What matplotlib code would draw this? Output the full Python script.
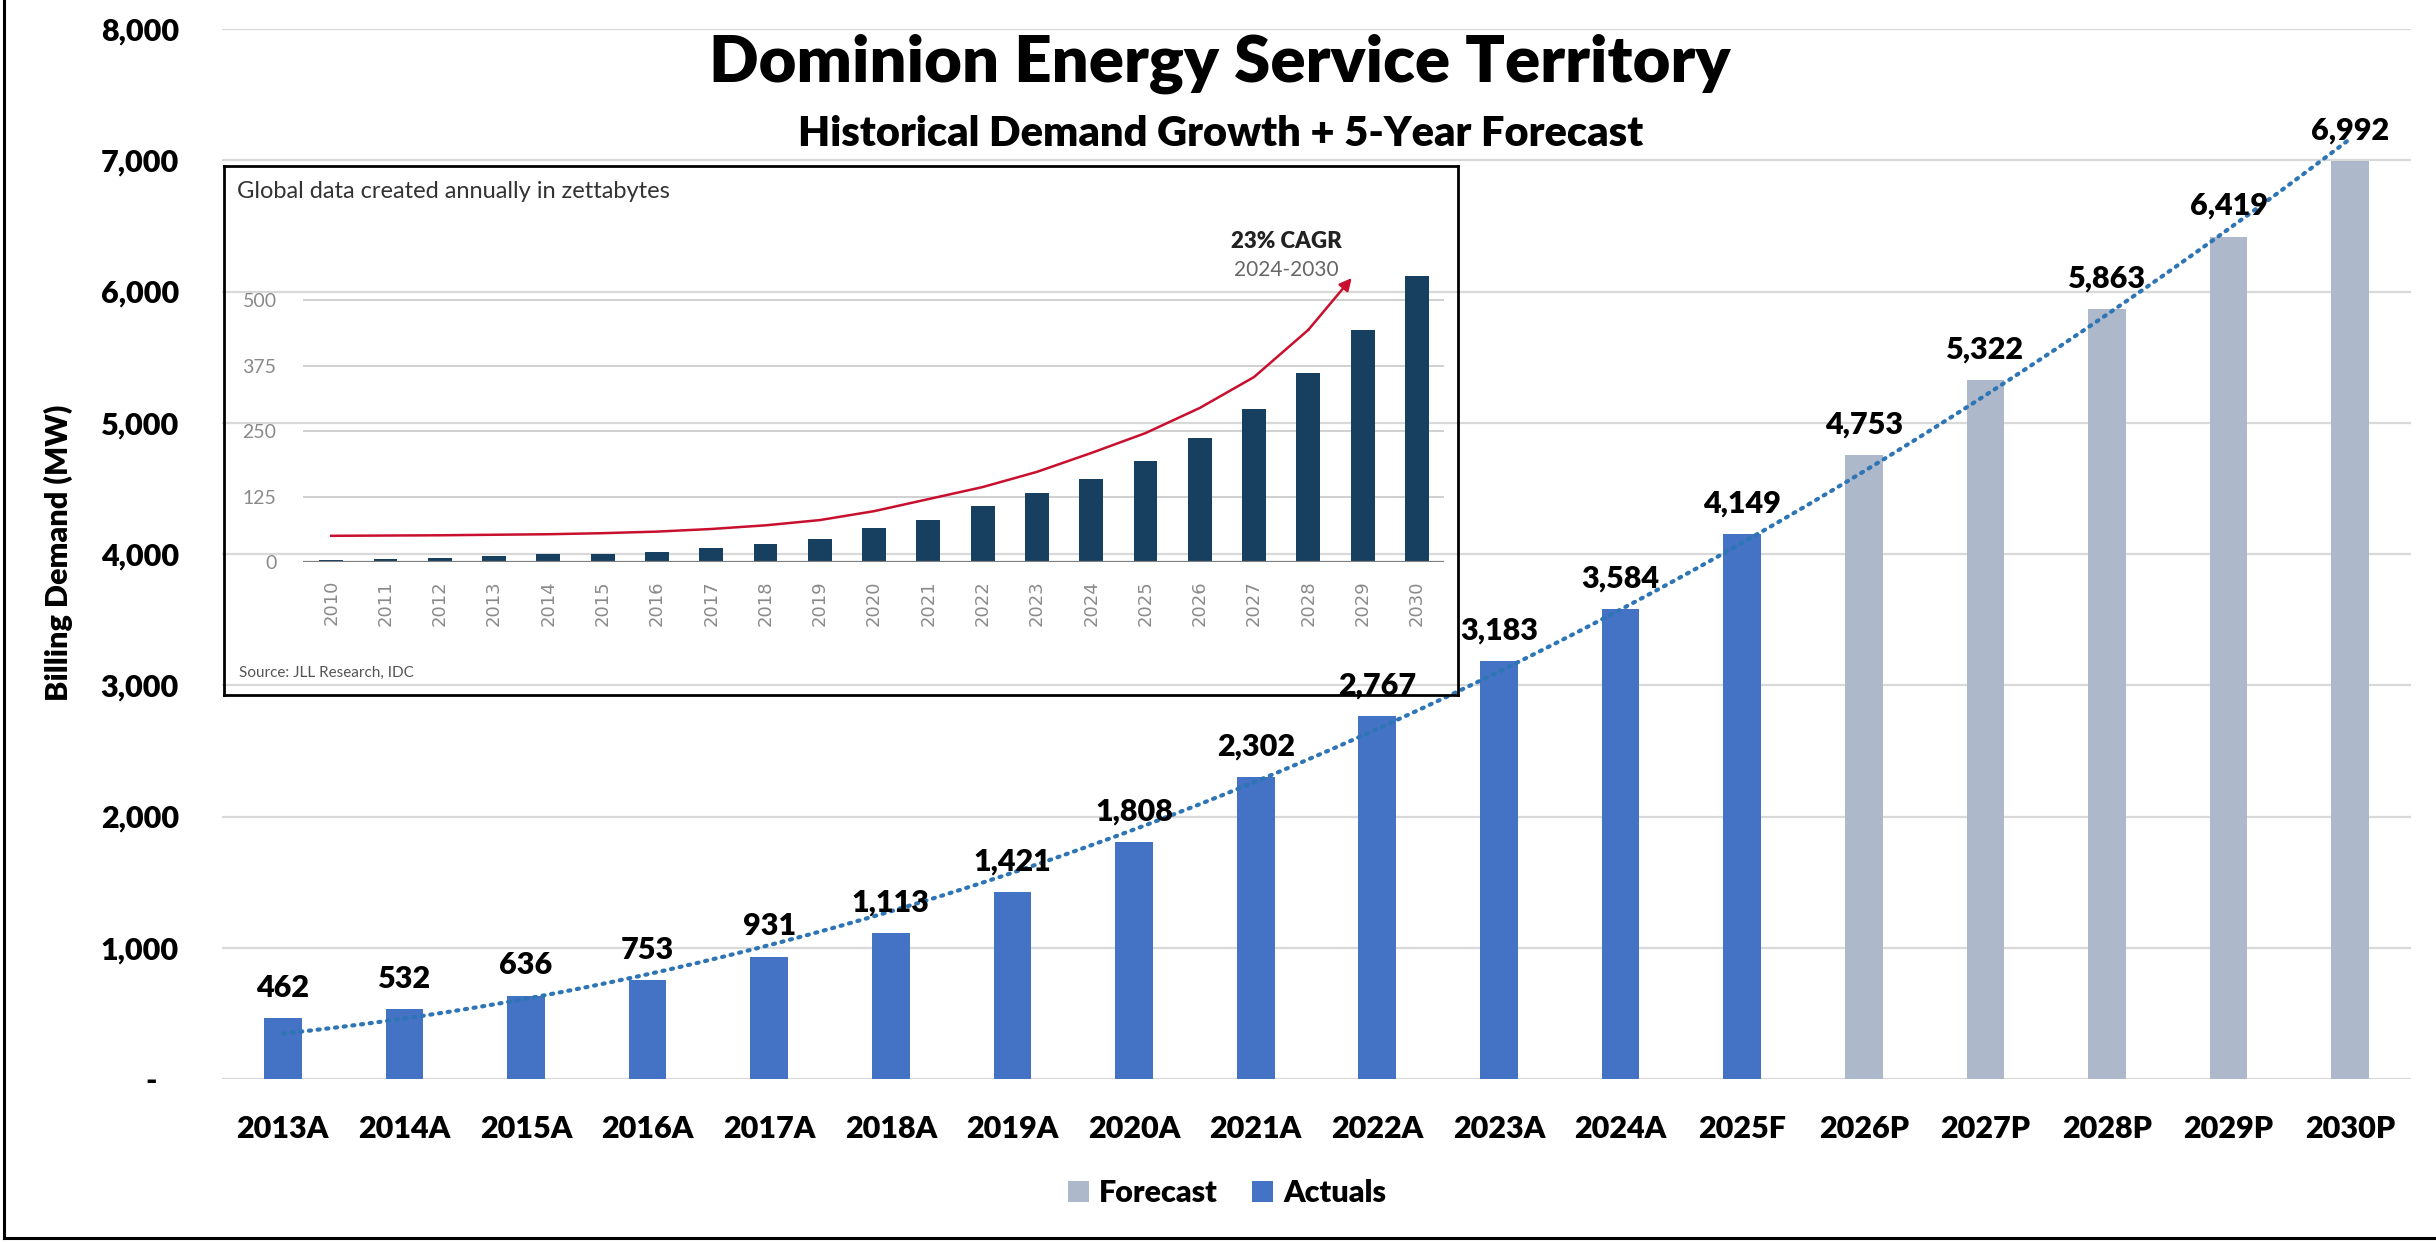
import numpy as np
import matplotlib.pyplot as plt
from matplotlib.patches import Patch
from matplotlib.lines import Line2D

plt.rcParams['font.family'] = ['Lato', 'DejaVu Sans']
plt.rcParams['font.weight'] = 'heavy'

# main chart data
years = ['2013A', '2014A', '2015A', '2016A', '2017A', '2018A', '2019A', '2020A', '2021A',
         '2022A', '2023A', '2024A', '2025F', '2026P', '2027P', '2028P', '2029P', '2030P']
demand = [462, 532, 636, 753, 931, 1113, 1421, 1808, 2302,
          2767, 3183, 3584, 4149, 4753, 5322, 5863, 6419, 6992]
is_forecast = [False] * 13 + [True] * 5

# inset chart data (global data created, zettabytes)
inset_years = [str(y) for y in range(2010, 2031)]
zettabytes = [3, 5, 8, 11, 15, 15, 19, 27, 34, 43, 65, 80, 107, 131, 158, 193, 237, 292, 361, 443, 546]
curve_pos = [0, 1, 2, 3, 4, 5, 6, 7, 8, 9, 10, 11, 12, 13, 14, 15, 16, 17, 18, 18.8]
curve_vals = [50, 50.5, 51, 52, 53, 55, 58, 63, 70, 80, 97, 120, 143, 172, 208, 246, 294, 353, 443, 542]

actual_color = '#4472C4'
forecast_color = '#ADB9CA'
trend_color = '#2E75B6'

W, H = 2436, 1243


def fx(px):
    return px / W


def fy(py):
    return 1 - py / H


fig = plt.figure(figsize=(W / 100, H / 100), dpi=100)

# ---- main axes
ax = fig.add_axes([fx(222), fy(1079), fx(2411) - fx(222), (1079 - 29) / H])
x = np.arange(len(years))
colors = [forecast_color if f else actual_color for f in is_forecast]
ax.bar(x, demand, width=0.31, color=colors, zorder=2)
ax.set_xlim(-0.5, len(years) - 0.5)
ax.set_ylim(0, 8000)
yt = list(range(0, 8001, 1000))
ax.set_yticks(yt)
ax.set_yticklabels(['-   '] + [f'{v:,}' for v in yt[1:]])
ax.set_xticks(x)
ax.set_xticklabels(years)
ax.yaxis.grid(True, color='#D9D9D9', lw=1.6)
ax.set_axisbelow(True)
for s in ax.spines.values():
    s.set_visible(False)
ax.tick_params(axis='both', length=0, labelsize=22)
ax.tick_params(axis='x', pad=26)
ax.tick_params(axis='y', pad=31)

# polynomial trendline (order 2) like the Excel one
coef = np.polyfit(x + 1, demand, 2)
xs = np.linspace(0, len(years) - 1, 300)
ax.plot(xs, np.polyval(coef, xs + 1), ls=(0, (0.5, 1.6)), color=trend_color, lw=3.0,
        dash_capstyle='round', zorder=4)

for xi, v in zip(x, demand):
    ax.annotate(f'{v:,}', (xi, v), xytext=(0, 15.5), textcoords='offset points',
                ha='center', va='baseline', fontsize=22, zorder=5)

fig.text(fx(58), fy(553), 'Billing Demand (MW)', rotation=90, ha='center', va='center',
         fontsize=22)

fig.text(fx(1220), fy(82), 'Dominion Energy Service Territory', ha='center', va='baseline',
         fontsize=47)
fig.text(fx(1221), fy(146), 'Historical Demand Growth + 5-Year Forecast', ha='center',
         va='baseline', fontsize=30)

handles = [Patch(facecolor=forecast_color, label='Forecast'),
           Patch(facecolor=actual_color, label='Actuals')]
fig.legend(handles=handles, loc='center', bbox_to_anchor=(fx(1227), fy(1193)), ncol=2,
           frameon=False, fontsize=22, handlelength=0.68, handleheight=0.68,
           handletextpad=0.35, columnspacing=1.1)

# ---- inset box
box = fig.add_axes([fx(224), fy(695), fx(1458) - fx(224), (695 - 166) / H])
box.set_facecolor('none')
box.set_xticks([])
box.set_yticks([])
for s in box.spines.values():
    s.set_color('black')
    s.set_linewidth(2)

ax_in = fig.add_axes([fx(303), fy(562), fx(1444) - fx(303), (562 - 268.6) / H])
ax_in.set_facecolor('none')
xi_pos = np.arange(len(inset_years))
ax_in.bar(xi_pos, zettabytes, width=0.44, color='#173F5F', zorder=2)
ax_in.set_xlim(-0.52, len(inset_years) - 0.5)
ax_in.set_ylim(0, 560)
ax_in.set_yticks([0, 125, 250, 375, 500])
ax_in.yaxis.grid(True, color='#C8C8C8', lw=1.2)
ax_in.set_axisbelow(True)
ax_in.axhline(0, color='#7F7F7F', lw=1.6, zorder=3)
for s in ax_in.spines.values():
    s.set_visible(False)
ax_in.set_xticks(xi_pos)
ax_in.set_xticklabels(inset_years, rotation=90, fontsize=13, color='#8A8A8A',
                      fontweight='normal', family=['DejaVu Sans'])
for lbl in ax_in.get_yticklabels():
    lbl.set_fontweight('normal')
ax_in.tick_params(axis='y', length=0, labelsize=14, labelcolor='#8A8A8A', pad=19)
ax_in.tick_params(axis='x', length=0, pad=13)

ax_in.plot(curve_pos[:-1], curve_vals[:-1], color='#C8102E', lw=1.8, zorder=4, clip_on=False,
           solid_joinstyle='round')
ax_in.annotate('', xy=(curve_pos[-1], curve_vals[-1]), xytext=(curve_pos[-2], curve_vals[-2]),
               arrowprops=dict(arrowstyle='-|>', color='#C8102E', lw=1.8, mutation_scale=18,
                               shrinkA=0, shrinkB=0), annotation_clip=False)

fig.text(fx(237), fy(191), 'Global data created annually in zettabytes', ha='left', va='center',
         fontsize=17, color='#333333', fontweight='normal')
fig.text(fx(239), fy(673), 'Source: JLL Research, IDC', ha='left', va='center',
         fontsize=11, color='#555555', fontweight='normal')
fig.text(fx(1286), fy(241), '23% CAGR', ha='center', va='center', fontsize=16,
         color='#222222')
fig.text(fx(1286), fy(270), '2024-2030', ha='center', va='center', fontsize=15,
         color='#666666', fontweight='normal')

# outer frame (left and bottom edges visible in the screenshot)
fig.add_artist(Line2D([fx(4), fx(4)], [fy(1238), 1], transform=fig.transFigure,
                      color='black', lw=2.2))
fig.add_artist(Line2D([fx(4), 1], [fy(1238), fy(1238)], transform=fig.transFigure,
                      color='black', lw=2.2))

fig.savefig('out.png', dpi=100)
